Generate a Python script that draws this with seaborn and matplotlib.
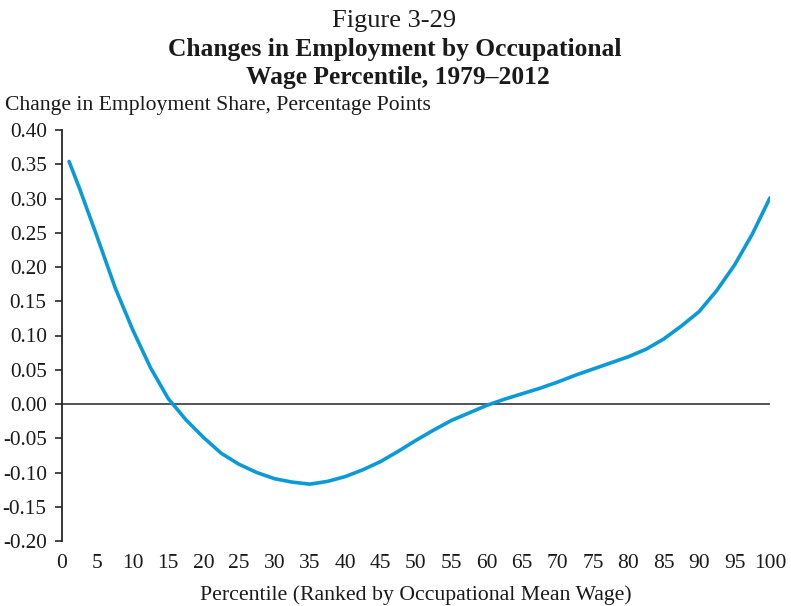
import matplotlib
matplotlib.use("Agg")
import matplotlib.pyplot as plt
import matplotlib.ticker as mticker
import pandas as pd
import seaborn as sns

# change in employment share by occupational wage percentile, 1979-2012
percentile = [1, 2.5, 5, 7.5, 10, 12.5, 15, 17.5, 20, 22.5, 25, 27.5, 30,
              32.5, 35, 37.5, 40, 42.5, 45, 47.5, 50, 52.5, 55, 57.5, 60,
              62.5, 65, 67.5, 70, 72.5, 75, 77.5, 80, 82.5, 85, 87.5, 90,
              92.5, 95, 97.5, 100]
share_change = [0.354, 0.314, 0.243, 0.170, 0.108, 0.053, 0.008, -0.023,
                -0.049, -0.072, -0.088, -0.100, -0.109, -0.114, -0.117,
                -0.113, -0.106, -0.096, -0.084, -0.069, -0.053, -0.038,
                -0.024, -0.013, -0.002, 0.007, 0.015, 0.023, 0.032, 0.042,
                0.051, 0.060, 0.069, 0.080, 0.095, 0.114, 0.135, 0.166,
                0.203, 0.248, 0.301]

y_ticks = [-0.20, -0.15, -0.10, -0.05, 0.00, 0.05, 0.10, 0.15, 0.20, 0.25, 0.30, 0.35, 0.40]
x_ticks = list(range(0, 101, 5))

df = pd.DataFrame({"Percentile": percentile, "Change": share_change})

sns.set_style("white")
plt.rcParams["font.family"] = ["Liberation Serif", "DejaVu Serif"]
plt.rcParams["axes.unicode_minus"] = False

fig = plt.figure(figsize=(7.91, 6.06), dpi=100)
ax = fig.add_axes([62 / 791, 1 - 541 / 606, 708 / 791, 411 / 606])

ax.axhline(0, color="#262626", lw=1.1, zorder=1)
sns.lineplot(data=df, x="Percentile", y="Change", ax=ax, color="#0a9ad8",
             linewidth=2.6, zorder=2)

ax.set_xlim(0, 100)
ax.set_ylim(-0.20, 0.40)
ax.set_yticks(y_ticks)
ax.set_xticks(x_ticks)
ax.yaxis.set_major_formatter(mticker.StrMethodFormatter("{x:.2f}"))
ax.tick_params(axis="y", direction="out", length=5, width=1.2, color="#262626",
               labelsize=15.2, pad=6, labelcolor="#1a1a1a", left=True)
ax.tick_params(axis="x", length=0, labelsize=15.5, pad=9, labelcolor="#1a1a1a")

for s in ["top", "right", "bottom"]:
    ax.spines[s].set_visible(False)
ax.spines["left"].set_color("#262626")
ax.spines["left"].set_linewidth(1.3)

ax.set_xlabel("")
ax.set_ylabel("")

fig.text(394 / 791, 1 - 27 / 606, "Figure 3-29", ha="center", va="baseline",
         fontsize=19, color="#1a1a1a")
fig.text(395 / 791, 1 - 56 / 606, "Changes in Employment by Occupational", ha="center",
         va="baseline", fontsize=18.4, fontweight="bold", color="#1a1a1a")
fig.text(398 / 791, 1 - 84 / 606, "Wage Percentile, 1979\u20132012", ha="center",
         va="baseline", fontsize=18.4, fontweight="bold", color="#1a1a1a")
fig.text(5 / 791, 1 - 110 / 606, "Change in Employment Share, Percentage Points",
         ha="left", va="baseline", fontsize=15.6, color="#1a1a1a")
fig.text(416 / 791, 1 - 600 / 606, "Percentile (Ranked by Occupational Mean Wage)",
         ha="center", va="baseline", fontsize=15.7, color="#1a1a1a")

fig.savefig("out.png", dpi=100)
